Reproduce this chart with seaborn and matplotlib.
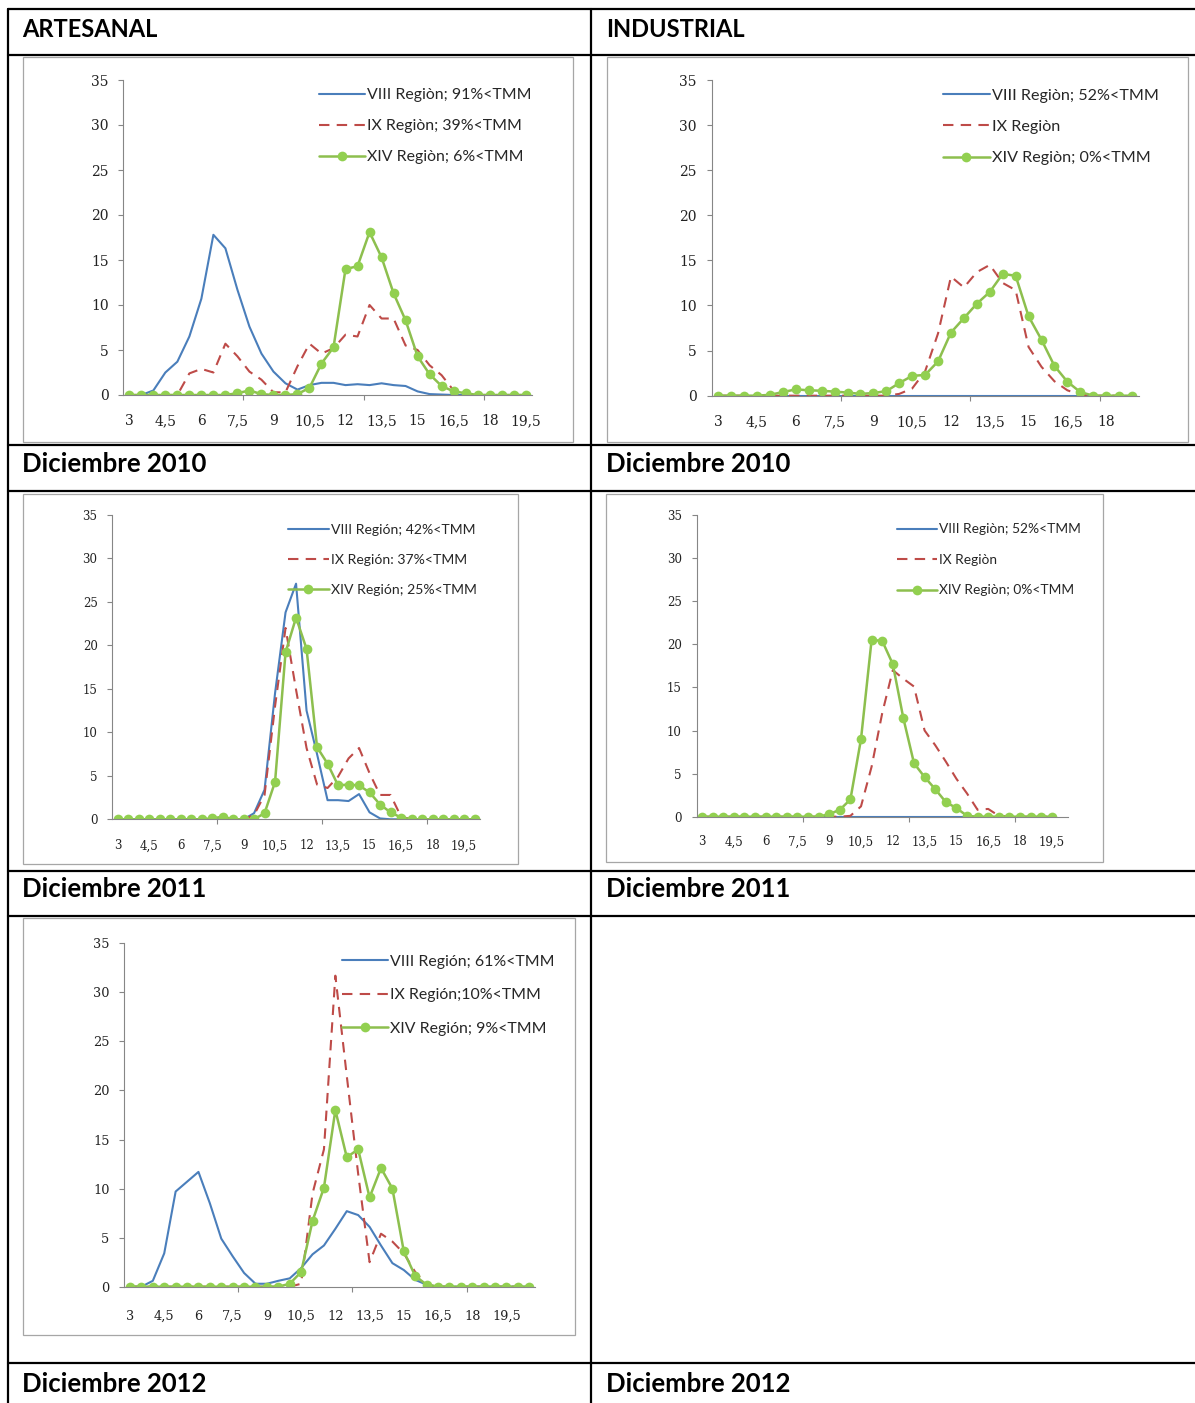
import numpy as np
import pandas as pd
import matplotlib
matplotlib.use("Agg")
import matplotlib.pyplot as plt
from matplotlib.lines import Line2D
from matplotlib.patches import Rectangle
import seaborn as sns

# tallas (cm) del eje x, categorias cada 0,5
TALLAS = [3, 3.5, 4, 4.5, 5, 5.5, 6, 6.5, 7, 7.5, 8, 8.5, 9, 9.5, 10, 10.5, 11, 11.5,
          12, 12.5, 13, 13.5, 14, 14.5, 15, 15.5, 16, 16.5, 17, 17.5, 18, 18.5, 19, 19.5,
          20, 20.5]

# Artesanal, diciembre 2010 (34 categorias)
ART10_VIII = [0, 0, 0.5, 2.5, 3.7, 6.5, 10.7, 17.8, 16.3, 11.7, 7.6, 4.6, 2.6, 1.3, 0.6,
              1.1, 1.35, 1.35, 1.1, 1.2, 1.1, 1.3, 1.1, 1.0, 0.4, 0.1, 0.05, 0, 0, 0, 0, 0, 0, 0]
ART10_IX = [0, 0, 0, 0, 0, 2.4, 2.9, 2.5, 5.7, 4.3, 2.6, 1.7, 0.3, 0.3, 3.2, 5.7, 4.6, 5.2,
            6.7, 6.5, 10, 8.5, 8.5, 5.5, 5.0, 3.3, 2.2, 0.5, 0, 0, 0, 0, 0, 0]
ART10_XIV = [0, 0, 0, 0, 0, 0, 0, 0, 0, 0.2, 0.5, 0.1, 0, 0, 0.1, 0.8, 3.5, 5.3, 14, 14.3,
             18.1, 15.3, 11.3, 8.3, 4.3, 2.3, 1.0, 0.4, 0.2, 0, 0, 0, 0, 0]

# Industrial, diciembre 2010 (33 categorias)
IND10_VIII = [0] * 33
IND10_IX = [0, 0, 0, 0, 0, 0, 0, 0, 0, 0, 0, 0, 0, 0, 0.2, 0.8, 2.7, 6.9, 13.2, 12.0, 13.7,
            14.5, 12.5, 11.7, 5.4, 3.2, 1.6, 0.6, 0.1, 0, 0, 0, 0]
IND10_XIV = [0, 0, 0, 0, 0.1, 0.4, 0.7, 0.6, 0.55, 0.45, 0.35, 0.2, 0.3, 0.5, 1.4, 2.2, 2.3,
             3.8, 7.0, 8.6, 10.2, 11.5, 13.5, 13.3, 8.8, 6.2, 3.3, 1.55, 0.4, 0, 0, 0, 0]

# Artesanal, diciembre 2011 (35 categorias)
ART11_VIII = [0, 0, 0, 0, 0, 0, 0, 0, 0, 0, 0, 0, 0, 0.7, 3.4, 14.5, 23.8, 27.1, 12.5, 7.5,
              2.2, 2.2, 2.1, 2.9, 0.8, 0.1, 0, 0, 0, 0, 0, 0, 0, 0, 0]
ART11_IX = [0, 0, 0, 0, 0, 0, 0, 0, 0, 0, 0, 0, 0, 0.5, 2.8, 13, 22, 14.9, 8.2, 4.0, 3.6,
            4.9, 7.0, 8.2, 5.3, 2.8, 2.8, 0.3, 0, 0, 0, 0, 0, 0, 0]
ART11_XIV = [0, 0, 0, 0, 0, 0, 0, 0, 0, 0.1, 0.3, 0, 0, 0, 0.7, 4.3, 19.2, 23.2, 19.6, 8.3,
             6.4, 3.9, 4.0, 3.9, 3.1, 1.7, 0.8, 0.2, 0, 0, 0, 0, 0, 0, 0]

# Industrial, diciembre 2011 (35 categorias, 34 con datos)
IND11_VIII = [0] * 34
IND11_IX = [0, 0, 0, 0, 0, 0, 0, 0, 0, 0, 0, 0, 0, 0, 0.1, 1.2, 5.8, 12, 17, 16, 15.1, 10,
            8.3, 6.4, 4.4, 2.7, 0.8, 0.9, 0.1, 0, 0, 0, 0, 0]
IND11_XIV = [0, 0, 0, 0, 0, 0, 0, 0, 0, 0, 0, 0, 0.3, 0.8, 2.0, 9.0, 20.5, 20.4, 17.7, 11.4,
             6.2, 4.6, 3.2, 1.7, 1.0, 0.1, 0, 0, 0, 0, 0, 0, 0, 0]

# Artesanal, diciembre 2012 (36 categorias)
ART12_VIII = [0, 0, 0.6, 3.4, 9.7, 10.7, 11.7, 8.5, 4.9, 3.1, 1.4, 0.3, 0.3, 0.6, 0.85, 1.9,
              3.3, 4.2, 5.9, 7.7, 7.3, 6.1, 4.2, 2.4, 1.7, 0.7, 0.2, 0, 0, 0, 0, 0, 0, 0, 0, 0]
ART12_IX = [0, 0, 0, 0, 0, 0, 0, 0, 0, 0, 0, 0, 0, 0, 0, 0.3, 9.5, 14, 31.7, 21.5, 11.5, 2.5,
            5.4, 4.6, 3.4, 1.5, 0.2, 0, 0, 0, 0, 0, 0, 0, 0, 0]
ART12_XIV = [0, 0, 0, 0, 0, 0, 0, 0, 0, 0, 0, 0, 0, 0, 0.3, 1.5, 6.7, 10.1, 18.0, 13.2, 14.0,
             9.1, 12.1, 10.0, 3.6, 1.1, 0.2, 0, 0, 0, 0, 0, 0, 0, 0, 0]

W, H = 1195, 1403
AZUL = "#4A7EBB"
ROJO = "#BE4B48"
VERDE = "#8DBF4E"
VERDE_PUNTO = "#92D050"
GRIS_EJE = "#868686"

sns.set_style("white")
plt.rcParams["font.family"] = ["Lato", "DejaVu Sans"]


def fx(x):
    return x / W


def fy(y):
    return 1 - y / H


def etiqueta(t):
    return f"{t:g}".replace(".", ",")


def grafico(fig, caja, ejes, n_cat, datos, nombres, tam_tick, tam_ley, ley_pos, ley_esp,
            pad_x=13):
    l, t, r, b = caja
    fig.add_artist(Rectangle((fx(l), fy(b)), fx(r) - fx(l), fy(t) - fy(b),
                             transform=fig.transFigure, fill=False,
                             edgecolor="#a6a6a6", lw=0.9))
    al, ar, at, ab = ejes
    ax = fig.add_axes([fx(al), fy(ab), fx(ar) - fx(al), fy(at) - fy(ab)])
    ax.patch.set_alpha(0)

    viii, ix, xiv = datos
    sns.lineplot(x=np.arange(len(viii)), y=viii, ax=ax, color=AZUL, lw=1.5,
                 label=nombres[0])
    sns.lineplot(x=np.arange(len(ix)), y=ix, ax=ax, color=ROJO, lw=1.5,
                 linestyle=(0, (5, 3.5)), label=nombres[1])
    sns.lineplot(x=np.arange(len(xiv)), y=xiv, ax=ax, color=VERDE, lw=1.8,
                 marker="o", markersize=7, markerfacecolor=VERDE_PUNTO,
                 markeredgecolor=VERDE_PUNTO, markeredgewidth=0, label=nombres[2])

    ax.set_xlim(-0.5, n_cat - 0.5)
    ax.set_ylim(0, 35)
    ax.set_yticks(range(0, 36, 5))
    pos = list(range(0, n_cat, 3))
    ax.set_xticks(pos)
    ax.set_xticklabels([etiqueta(TALLAS[i]) for i in pos])
    ax.set_xticks(np.arange(9.5, n_cat - 0.5, 10), minor=True)
    ax.set_xlabel("")
    ax.set_ylabel("")
    for s in ["top", "right"]:
        ax.spines[s].set_visible(False)
    for s in ["left", "bottom"]:
        ax.spines[s].set_color(GRIS_EJE)
        ax.spines[s].set_linewidth(0.8)
    ax.tick_params(axis="x", which="major", length=0, pad=pad_x, labelsize=tam_tick)
    ax.tick_params(axis="x", which="minor", length=3.6, width=0.8, color=GRIS_EJE,
                   direction="out", bottom=True)
    ax.tick_params(axis="y", which="major", length=3.6, width=0.8, color=GRIS_EJE,
                   direction="out", left=True, pad=7, labelsize=tam_tick)
    for lab in ax.get_xticklabels() + ax.get_yticklabels():
        lab.set_fontfamily("DejaVu Serif")
        lab.set_color("#222222")

    ax.legend(loc="upper left", bbox_to_anchor=(fx(ley_pos[0]), fy(ley_pos[1])),
              bbox_transform=fig.transFigure, frameon=False, borderpad=0,
              borderaxespad=0, handlelength=2.9, handletextpad=0.15,
              labelspacing=ley_esp, prop={"family": "Lato", "size": tam_ley})
    return ax


fig = plt.figure(figsize=(W / 100, H / 100), dpi=100)

# lineas de la tabla
for y in [9, 54.5, 444.5, 490.5, 870.5, 915.5, 1363]:
    fig.add_artist(Line2D([fx(8), fx(W)], [fy(y), fy(y)], color="black", lw=1.6))
for x in [8, 591]:
    fig.add_artist(Line2D([fx(x), fx(x)], [fy(9), fy(H)], color="black", lw=1.6))

tit = dict(fontfamily="Lato", fontweight="bold", va="baseline", color="black")
fig.text(fx(22), fy(37), "ARTESANAL", fontsize=17, **tit)
fig.text(fx(606), fy(37), "INDUSTRIAL", fontsize=17, **tit)
for x, y, s in [(22, 472, "Diciembre 2010"), (606, 472, "Diciembre 2010"),
                (22, 897, "Diciembre 2011"), (606, 897, "Diciembre 2011"),
                (22, 1392, "Diciembre 2012"), (606, 1392, "Diciembre 2012")]:
    fig.text(fx(x), fy(y), s, fontsize=18.5, **tit)

grafico(fig, (23, 57, 573, 442), (123.3, 531.7, 80, 395), 34,
        (ART10_VIII, ART10_IX, ART10_XIV),
        ["VIII Regiòn; 91%<TMM", "IX Regiòn; 39%<TMM", "XIV Regiòn; 6%<TMM"],
        10, 11.4, (319, 88), 1.07, pad_x=14)
grafico(fig, (606.5, 57, 1188, 442), (711.7, 1138.5, 80, 395.7), 33,
        (IND10_VIII, IND10_IX, IND10_XIV),
        ["VIII Regiòn; 52%<TMM", "IX Regiòn", "XIV Regiòn; 0%<TMM"],
        10, 11.6, (943, 88.5), 1.05, pad_x=14)
grafico(fig, (23, 494, 518, 864), (112.3, 479.8, 515, 819.3), 35,
        (ART11_VIII, ART11_IX, ART11_XIV),
        ["VIII Región; 42%<TMM", "IX Región: 37%<TMM", "XIV Región; 25%<TMM"],
        8.5, 10.1, (288, 524), 1.28, pad_x=14.5)
grafico(fig, (606, 494, 1103, 862), (696.7, 1067.7, 515, 816.7), 35,
        (IND11_VIII, IND11_IX, IND11_XIV),
        ["VIII Regiòn; 52%<TMM", "IX Regiòn", "XIV Regiòn; 0%<TMM"],
        8.5, 9.9, (897, 523.5), 1.34, pad_x=13.5)
grafico(fig, (23, 918, 575, 1335), (124.3, 535, 943.3, 1286.7), 36,
        (ART12_VIII, ART12_IX, ART12_XIV),
        ["VIII Región; 61%<TMM", "IX Región;10%<TMM", "XIV Región; 9%<TMM"],
        9.3, 11.4, (342, 954.5), 1.23, pad_x=16.5)

fig.savefig("out.png", dpi=100, facecolor="white")
